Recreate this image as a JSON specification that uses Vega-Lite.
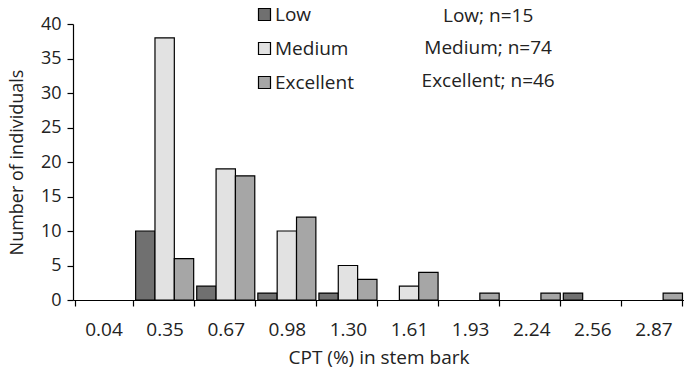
{
  "$schema": "https://vega.github.io/schema/vega-lite/v6.json",
  "autosize": {"type": "none"},
  "width": 611,
  "height": 276,
  "padding": {"left": 73, "top": 24, "right": 0, "bottom": 74},
  "background": "white",
  "config": {
    "view": {"stroke": null},
    "font": "Open Sans",
    "axis": {"labelFont": "Open Sans", "titleFont": "Open Sans", "labelColor": "#222", "titleColor": "#222", "domainColor": "black", "tickColor": "black", "titleFontWeight": "normal"},
    "legend": {"labelFont": "Open Sans", "labelColor": "#222"}
  },
  "datasets": {
    "bars": [
      {"cpt": "0.04", "level": "Low", "n": 0},
      {"cpt": "0.04", "level": "Medium", "n": 0},
      {"cpt": "0.04", "level": "Excellent", "n": 0},
      {"cpt": "0.35", "level": "Low", "n": 10},
      {"cpt": "0.35", "level": "Medium", "n": 38},
      {"cpt": "0.35", "level": "Excellent", "n": 6},
      {"cpt": "0.67", "level": "Low", "n": 2},
      {"cpt": "0.67", "level": "Medium", "n": 19},
      {"cpt": "0.67", "level": "Excellent", "n": 18},
      {"cpt": "0.98", "level": "Low", "n": 1},
      {"cpt": "0.98", "level": "Medium", "n": 10},
      {"cpt": "0.98", "level": "Excellent", "n": 12},
      {"cpt": "1.30", "level": "Low", "n": 1},
      {"cpt": "1.30", "level": "Medium", "n": 5},
      {"cpt": "1.30", "level": "Excellent", "n": 3},
      {"cpt": "1.61", "level": "Low", "n": 0},
      {"cpt": "1.61", "level": "Medium", "n": 2},
      {"cpt": "1.61", "level": "Excellent", "n": 4},
      {"cpt": "1.93", "level": "Low", "n": 0},
      {"cpt": "1.93", "level": "Medium", "n": 0},
      {"cpt": "1.93", "level": "Excellent", "n": 1},
      {"cpt": "2.24", "level": "Low", "n": 0},
      {"cpt": "2.24", "level": "Medium", "n": 0},
      {"cpt": "2.24", "level": "Excellent", "n": 1},
      {"cpt": "2.56", "level": "Low", "n": 1},
      {"cpt": "2.56", "level": "Medium", "n": 0},
      {"cpt": "2.56", "level": "Excellent", "n": 0},
      {"cpt": "2.87", "level": "Low", "n": 0},
      {"cpt": "2.87", "level": "Medium", "n": 0},
      {"cpt": "2.87", "level": "Excellent", "n": 1}
    ],
    "notes": [
      {"cpt": "1.93", "n": 41.2, "label": "Low; n=15"},
      {"cpt": "1.93", "n": 36.5, "label": "Medium; n=74"},
      {"cpt": "1.93", "n": 31.8, "label": "Excellent; n=46"}
    ]
  },
  "encoding": {
    "x": {
      "field": "cpt", "type": "nominal", "sort": null,
      "scale": {"domain": ["0.04","0.35","0.67","0.98","1.30","1.61","1.93","2.24","2.56","2.87"], "paddingInner": 0.05, "paddingOuter": 0.025},
      "axis": {"title": "CPT (%) in stem bark", "labelAngle": 0, "labelFontSize": 19, "titleFontSize": 19, "tickBand": "extent", "tickSize": 6, "labelPadding": 14, "titlePadding": 9, "domainWidth": 1.2, "tickWidth": 1.2}
    },
    "y": {
      "field": "n", "type": "quantitative",
      "scale": {"domain": [0, 40], "nice": false},
      "axis": {"title": "Number of individuals", "values": [0,5,10,15,20,25,30,35,40], "labelOverlap": false, "grid": false, "labelFontSize": 18, "titleFontSize": 18, "tickSize": 6, "labelPadding": 6, "titlePadding": 14, "domainWidth": 1.2, "tickWidth": 1.2}
    }
  },
  "layer": [
    {
      "data": {"name": "bars"},
      "transform": [{"filter": "datum.n > 0"}],
      "mark": {"type": "bar", "stroke": "black", "strokeWidth": 1.2},
      "encoding": {
        "xOffset": {"field": "level", "type": "nominal", "sort": ["Low", "Medium", "Excellent"], "scale": {"paddingInner": 0, "paddingOuter": 0}},
        "fill": {
          "field": "level", "type": "nominal",
          "scale": {"domain": ["Low", "Medium", "Excellent"], "range": ["#707070", "#e2e2e2", "#a6a6a6"]},
          "legend": {"title": null, "orient": "none", "legendX": 182, "legendY": -19, "symbolType": "square", "symbolSize": 144, "symbolStrokeColor": "black", "symbolStrokeWidth": 1.2, "labelFontSize": 19, "rowPadding": 14, "labelOffset": 1}
        }
      }
    },
    {
      "data": {"name": "notes"},
      "mark": {"type": "text", "fontSize": 19, "align": "center", "baseline": "middle", "dx": 18, "color": "#222"},
      "encoding": {
        "text": {"field": "label"}
      }
    }
  ]
}
